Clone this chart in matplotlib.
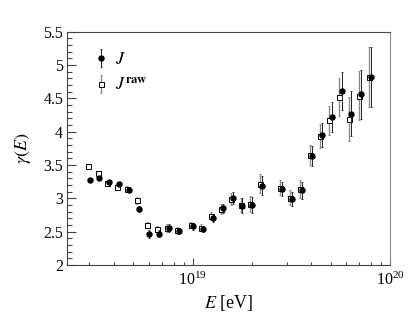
"""Spectral index gamma(E) vs energy, J and J_raw."""

import matplotlib

matplotlib.use("Agg")
import matplotlib.pyplot as plt
from matplotlib.ticker import LogLocator, MultipleLocator, NullFormatter, FormatStrFormatter

plt.rcParams["font.family"] = ["Liberation Serif", "DejaVu Serif"]
plt.rcParams["mathtext.fontset"] = "stix"

# log10(E/eV) of the J points, gamma and errors
log_e = [18.478, 18.527, 18.578, 18.628, 18.678, 18.729, 18.778, 18.828, 18.879, 18.929,
         19.002, 19.053, 19.102, 19.153, 19.203, 19.252, 19.303, 19.352, 19.453, 19.502,
         19.553, 19.603, 19.654, 19.705, 19.756, 19.803, 19.855, 19.904]
gamma_j = [3.28, 3.30, 3.25, 3.22, 3.13, 2.84, 2.46, 2.47, 2.55, 2.51,
           2.58, 2.54, 2.71, 2.85, 3.01, 2.89, 2.90, 3.19, 3.14, 2.99,
           3.12, 3.64, 3.95, 4.22, 4.61, 4.27, 4.56, 4.82]
err_j = [0.02, 0.03, 0.03, 0.03, 0.04, 0.05, 0.06, 0.05, 0.06, 0.05,
         0.05, 0.05, 0.06, 0.07, 0.09, 0.11, 0.12, 0.14, 0.11, 0.11,
         0.13, 0.15, 0.18, 0.22, 0.29, 0.34, 0.37, 0.45]

# J_raw is drawn slightly to the left of J
log_e_raw = [18.470, 18.519, 18.568, 18.617, 18.669, 18.720, 18.771, 18.818, 18.869, 18.920,
             18.994, 19.044, 19.095, 19.146, 19.196, 19.245, 19.293, 19.343, 19.445, 19.494,
             19.544, 19.596, 19.643, 19.693, 19.744, 19.794, 19.845, 19.896]
gamma_raw = [3.48, 3.38, 3.23, 3.17, 3.14, 2.97, 2.60, 2.54, 2.56, 2.52,
             2.60, 2.56, 2.73, 2.84, 2.99, 2.90, 2.91, 3.22, 3.16, 3.01,
             3.14, 3.65, 3.93, 4.17, 4.52, 4.19, 4.54, 4.82]
err_raw = [0.02, 0.03, 0.03, 0.03, 0.04, 0.05, 0.05, 0.05, 0.06, 0.05,
           0.05, 0.05, 0.06, 0.07, 0.09, 0.11, 0.12, 0.14, 0.11, 0.11,
           0.13, 0.15, 0.18, 0.22, 0.28, 0.33, 0.37, 0.45]

e_j = [10 ** v for v in log_e]
e_raw = [10 ** v for v in log_e_raw]

fig = plt.figure(figsize=(4.15, 3.12), dpi=100)
ax = fig.add_axes([0.1607, 0.1506, 0.7791, 0.7478])

h_raw = ax.errorbar(e_raw, gamma_raw, yerr=err_raw, fmt="s", ms=3.6, mfc="white",
                    mec="black", mew=0.7, ecolor="#8a8a8a", elinewidth=1.0,
                    capsize=1, capthick=0.7, zorder=2)
h_j = ax.errorbar(e_j, gamma_j, yerr=err_j, fmt="o", ms=3.6, mfc="black",
                  mec="black", ecolor="#222222", elinewidth=0.7,
                  capsize=1, capthick=0.6, zorder=3)

ax.set_xscale("log")
ax.set_xlim(2.3e18, 1e20)
ax.set_ylim(2, 5.5)

ax.yaxis.set_major_locator(MultipleLocator(0.5))
ax.yaxis.set_minor_locator(MultipleLocator(0.1))
ax.yaxis.set_major_formatter(FormatStrFormatter("%g"))
ax.xaxis.set_major_locator(LogLocator(base=10))
ax.xaxis.set_minor_locator(LogLocator(base=10, subs=range(2, 10)))
ax.xaxis.set_minor_formatter(NullFormatter())

ax.tick_params(axis="both", which="both", direction="in", top=False, right=False,
               color="#444444", width=0.8, labelsize=11.5)
ax.tick_params(axis="y", which="major", length=6.5, pad=2.5)
ax.tick_params(axis="y", which="minor", length=3.5)
ax.tick_params(axis="x", which="major", length=5, pad=5)
ax.tick_params(axis="x", which="minor", length=2.5)

for side in ("left", "bottom", "top"):
    ax.spines[side].set_color("#444444")
ax.spines["right"].set_color("#888888")
for sp in ax.spines.values():
    sp.set_linewidth(0.8)

ax.set_xlabel(r"$E$ [eV]", fontsize=13, labelpad=3)
ax.set_ylabel(r"$\gamma(E)$", fontsize=13)
ax.yaxis.set_label_coords(-0.105, 0.5)

ax.legend([h_j, h_raw], [r"$J$", r"$J^{\mathbf{raw}}$"], loc="upper left",
          bbox_to_anchor=(0.06, 0.955), frameon=False, fontsize=13,
          handlelength=0.6, handletextpad=0.5, labelspacing=0.5, borderpad=0)

fig.savefig("out.png", dpi=100)
